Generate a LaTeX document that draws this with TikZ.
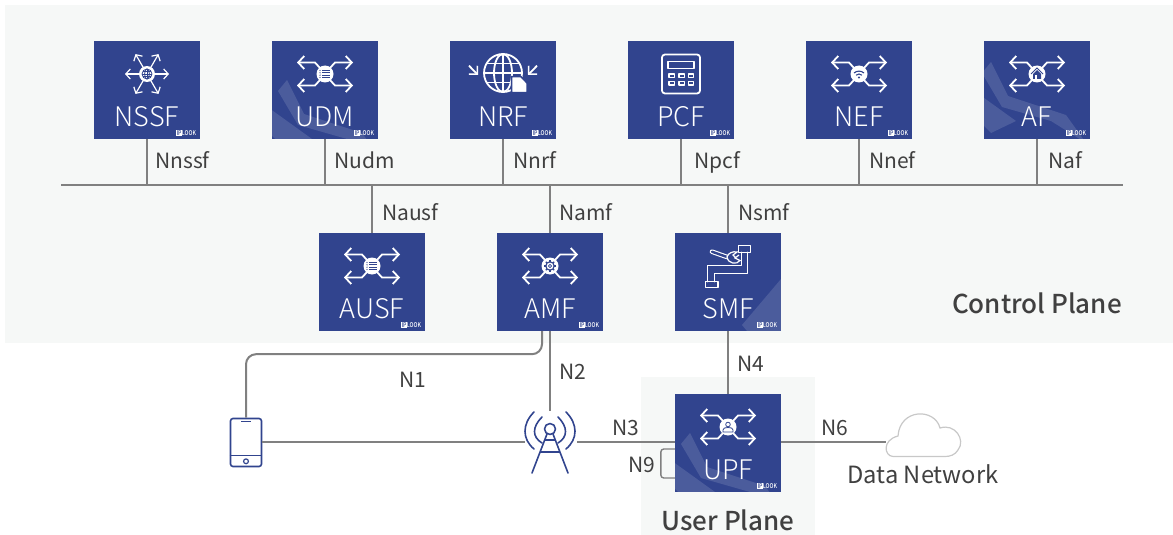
\documentclass[tikz,border=0pt]{standalone}
\usepackage{graphicx}
\usepackage{fontspec}
\setmainfont{Noto Sans CJK SC}
\newfontfamily\lightfont{Noto Sans CJK SC Light}
\newfontfamily\mediumfont{Noto Sans CJK SC Medium}
\usetikzlibrary{calc,arrows.meta}
\definecolor{nfblue}{HTML}{31448E}
\definecolor{planebg}{HTML}{F6F8F7}
\definecolor{linkgray}{HTML}{808080}
\definecolor{textgray}{HTML}{404040}
\definecolor{cloudgray}{HTML}{C8C8C8}
\newcommand{\iplogo}{\scalebox{.8}[1]{\mediumfont\fontsize{6.5}{6.5}\selectfont\fboxsep=0.5pt\colorbox{white}{\textcolor{nfblue}{IP}}LOOK}}
\tikzset{
nfbox/.style={fill=nfblue, text=white, inner sep=0pt, minimum width=106pt, text height=85pt, text depth=13pt, font=\lightfont\fontsize{27}{27}\selectfont},
band/.style 2 args={path picture={
\coordinate (ppo) at (path picture bounding box.north west);
\fill[white, opacity=.13] ($(ppo)+(6+#1,50+#2)$) -- ($(ppo)+(15+#1,39+#2)$) -- ($(ppo)+(32+#1,73+#2)$) -- ($(ppo)+(90+#1,92+#2)$) -- ($(ppo)+(110+#1,120+#2)$) -- ($(ppo)+(75+#1,98+#2)$) -- ($(ppo)+(26+#1,84+#2)$) -- cycle;
\fill[white, opacity=.13] ($(ppo)+(-10+#1,62+#2)$) -- ($(ppo)+(40+#1,98+#2)$) -- ($(ppo)+(15+#1,110+#2)$) -- ($(ppo)+(-10+#1,85+#2)$) -- cycle;
}},
logo/.style={text=white, inner sep=0pt, anchor=east},
lbl/.style={text=textgray, inner sep=0pt, anchor=base west, xshift=-1pt, font=\fontsize{21}{21}\selectfont},
plane/.style={text=textgray, inner sep=0pt, font=\mediumfont\fontsize{26}{26}\selectfont},
link/.style={draw=linkgray, line width=2pt},
iconline/.style={draw=white, line width=1.8pt, line cap=round, line join=round},
glyph/.style={draw=nfblue, line width=.8pt},
tiny/.style={draw=nfblue, line width=1.6pt, line cap=round, line join=round},
xarrows/.pic={
\draw[iconline, -{Straight Barb[length=6pt,width=13pt,line width=1.8pt]}] (-5,-6) -- (-10,-11.5) -- (-28,-11.5);
\draw[iconline, -{Straight Barb[length=6pt,width=13pt,line width=1.8pt]}] (5,-6) -- (10,-11.5) -- (28,-11.5);
\draw[iconline, -{Straight Barb[length=6pt,width=13pt,line width=1.8pt]}] (-5,6) -- (-10,11.5) -- (-28,11.5);
\draw[iconline, -{Straight Barb[length=6pt,width=13pt,line width=1.8pt]}] (5,6) -- (10,11.5) -- (28,11.5);
\fill[white] (0,0) circle (8.5);
},
listglyph/.pic={
\foreach \yy in {-3.5,-1.2,1.2,3.5} {\draw[glyph, line width=1.1pt] (-3,\yy) -- (5,\yy); \fill[nfblue] (-5,\yy) circle (.7);}
},
wifiglyph/.pic={
\draw[glyph, line width=1.1pt] (-5,-1) .. controls (-2,-3.5) and (2,-3.5) .. (5,-1);
\draw[glyph, line width=1.1pt] (-3,1.2) .. controls (-1,-.4) and (1,-.4) .. (3,1.2);
\fill[nfblue] (0,3.5) circle (1.2);
},
houseglyph/.pic={
\draw[glyph] (-6,0) -- (0,-6) -- (6,0);
\fill[nfblue] (-4,0) -- (0,-4) -- (4,0) -- (4,5) -- (-4,5) -- cycle;
\fill[white] (-2.5,1) rectangle (0,5);
},
gearglyph/.pic={
\draw[glyph, line width=1.2pt] (0,0) circle (4.2);
\draw[glyph] (0,0) circle (1.6);
\foreach \aa in {0,45,...,315} {\draw[glyph, line width=1.4pt] (\aa:4.2) -- (\aa:6);}
},
personglyph/.pic={
\draw[glyph] (0,-2.5) circle (2.3);
\draw[glyph] (-5,5) -- (-5,3) .. controls (-5,1) and (-3,.5) .. (0,.5) .. controls (3,.5) and (5,1) .. (5,3) -- (5,5) -- cycle;
},
globeglyph/.pic={
\draw[glyph] (0,0) circle (5);
\draw[glyph] (0,0) ellipse [x radius=2.4, y radius=5];
\draw[glyph] (-5,0) -- (5,0) (0,-5) -- (0,5) (-4.3,-2.4) -- (4.3,-2.4) (-4.3,2.4) -- (4.3,2.4);
},
radial/.pic={
\foreach \aa/\rr in {0/22,60/23,120/23,180/22,240/23,300/23} {\draw[iconline, line width=1.2pt, -{Straight Barb[length=4.5pt,width=10pt,line width=1.2pt]}] (0,0) -- (\aa:\rr);}
\fill[white] (0,0) circle (8);
},
nrficon/.pic={
\draw[iconline] (0,-1) circle (19);
\draw[iconline] (0,-1) ellipse [x radius=9, y radius=19];
\draw[iconline] (0,-20) -- (0,18) (-19,-1) -- (19,-1) (-16.5,-10.5) -- (16.5,-10.5) (-16.5,8.5) -- (16.5,8.5);
\filldraw[fill=white, draw=nfblue, line width=1.5pt] (8.7,2.7) -- (18,2.7) -- (24,9) -- (24,18.7) -- (8.7,18.7) -- cycle;
\draw[iconline, line cap=butt, -{Straight Barb[length=6pt,width=13pt,line width=1.5pt,angle'=90]}] (-34,-8.3) -- (-25,1);
\draw[iconline, line cap=butt, -{Straight Barb[length=6pt,width=13pt,line width=1.5pt,angle'=90]}] (34,-8.3) -- (25,1);
},
pcficon/.pic={
\draw[iconline, rounded corners=3] (-19,-19.5) rectangle (19,19.5);
\draw[iconline, line width=1.3pt] (-13,-12.3) rectangle (13,-5.7);
\foreach \xx in {-9.3,.7,10} \foreach \yy in {1.8,9.3} {\draw[iconline, line width=1.3pt] (\xx-2.7,\yy-1.7) rectangle (\xx+2.7,\yy+1.7);}
},
smficon/.pic={
\draw[iconline, line width=1.5pt] (10.7,-20.3) rectangle (22.7,-13.7);
\draw[iconline, line width=1.5pt] (-22.3,15.7) rectangle (-10,21.7);
\draw[iconline, line width=1.5pt] (13.7,-13.7) -- (13.7,-.3) -- (-20.3,-.3) -- (-20.3,15.7);
\draw[iconline, line width=1.5pt] (19.3,-13.7) -- (19.3,7.3) -- (-13.7,7.3) -- (-13.7,15.7);
\draw[white, line width=4.6pt, line cap=round] (-16,-14.3) -- (-1,-9);
\draw[nfblue, line width=2.4pt, line cap=round] (-16,-14.3) -- (-1,-9);
\draw[white, line width=1.2pt, fill=nfblue] (11,-11) -- (7,-8) -- (12,-5.5) .. controls (9,-1) and (0,-2) .. (-1,-9) .. controls (0,-13) and (5,-15) .. (9,-14) -- (5,-11) -- (8,-8);
},
}
\begin{document}
\begin{tikzpicture}[x=1pt, y=-1pt]
\useasboundingbox (0,0) rectangle (1173,535);
\fill[planebg] (5,5) rectangle (1173,343);
\fill[planebg] (641,377) rectangle (815,535);

\node(NSSF)[nfbox] at (147,90) {NSSF};
\node(UDM)[nfbox, band={0}{0}] at (325,90) {UDM};
\node(NRF)[nfbox] at (503,90) {NRF};
\node(PCF)[nfbox] at (681,90) {PCF};
\node(NEF)[nfbox] at (859,90) {NEF};
\node(AF)[nfbox, band={-8}{-18}] at (1037,90) {AF};
\node(AUSF)[nfbox] at (372,282) {AUSF};
\node(AMF)[nfbox] at (550,282) {AMF};
\node(SMF)[nfbox, path picture={\fill[white, opacity=.13] ($(path picture bounding box.south east)+(0,-52)$) -- ($(path picture bounding box.south east)+(-39,-6)$) -- ($(path picture bounding box.south east)+(-34,0)$) -- (path picture bounding box.south east) -- cycle;}] at (728,282) {SMF};
\node(UPF)[nfbox, band={0}{0}] at (728,443) {UPF};

\pic at ($(NSSF)+(0,-16)$) {radial};
\pic at ($(NSSF)+(0,-16)$) {globeglyph};
\pic at ($(UDM)+(0,-16)$) {xarrows};
\pic at ($(UDM)+(0,-16)$) {listglyph};
\pic at ($(NRF)+(0,-16)$) {nrficon};
\pic at ($(PCF)+(0,-16)$) {pcficon};
\pic at ($(NEF)+(0,-16)$) {xarrows};
\pic at ($(NEF)+(0,-16)$) {wifiglyph};
\pic at ($(AF)+(0,-16)$) {xarrows};
\pic at ($(AF)+(0,-16)$) {houseglyph};
\pic at ($(AUSF)+(0,-16)$) {xarrows};
\pic at ($(AUSF)+(0,-16)$) {listglyph};
\pic at ($(AMF)+(0,-16)$) {xarrows};
\pic at ($(AMF)+(0,-16)$) {gearglyph};
\pic at ($(SMF)+(0,-16)$) {smficon};
\pic at ($(UPF)+(0,-16)$) {xarrows};
\pic at ($(UPF)+(0,-16)$) {personglyph};

\node(NSSFlogo)[logo] at ($(NSSF.south east)+(-4,-6)$) {\iplogo};
\node(UDMlogo)[logo] at ($(UDM.south east)+(-4,-6)$) {\iplogo};
\node(NRFlogo)[logo] at ($(NRF.south east)+(-4,-6)$) {\iplogo};
\node(PCFlogo)[logo] at ($(PCF.south east)+(-4,-6)$) {\iplogo};
\node(NEFlogo)[logo] at ($(NEF.south east)+(-4,-6)$) {\iplogo};
\node(AFlogo)[logo] at ($(AF.south east)+(-4,-6)$) {\iplogo};
\node(AUSFlogo)[logo] at ($(AUSF.south east)+(-4,-6)$) {\iplogo};
\node(AMFlogo)[logo] at ($(AMF.south east)+(-4,-6)$) {\iplogo};
\node(SMFlogo)[logo] at ($(SMF.south east)+(-4,-6)$) {\iplogo};
\node(UPFlogo)[logo] at ($(UPF.south east)+(-4,-6)$) {\iplogo};

\coordinate(BusL) at (61,185);
\coordinate(BusR) at (1123,185);
\draw[link] (BusL) -- (BusR);
\draw[link] (NSSF.south) -- (NSSF.south |- BusL);
\draw[link] (UDM.south) -- (UDM.south |- BusL);
\draw[link] (NRF.south) -- (NRF.south |- BusL);
\draw[link] (PCF.south) -- (PCF.south |- BusL);
\draw[link] (NEF.south) -- (NEF.south |- BusL);
\draw[link] (AF.south) -- (AF.south |- BusL);
\draw[link] (AUSF.north) -- (AUSF.north |- BusL);
\draw[link] (AMF.north) -- (AMF.north |- BusL);
\draw[link] (SMF.north) -- (SMF.north |- BusL);

\node(UE)[draw=nfblue, line width=1.6pt, rounded corners=2.5, inner sep=0pt, minimum width=31pt, minimum height=48pt] at (246,442.5) {};
\draw[nfblue, line width=1.4pt] ($(UE.north)+(-5,4)$) -- ($(UE.north)+(5,4)$);
\draw[nfblue, line width=1.4pt] ($(UE.south west)+(0,-12)$) -- ($(UE.south east)+(0,-12)$);
\draw[nfblue, line width=1.2pt] ($(UE.south)+(0,-6)$) circle (2.4);

\node(GNB)[inner sep=0pt, minimum width=52pt, minimum height=62pt] at (551,442) {};
\begin{scope}[shift={(GNB.center)}]
\draw[tiny] (-1,-13) circle (5.5);
\draw[tiny] (-4,-8) -- (-19,31) (2,-8) -- (17,31) (-10,10) -- (8,10) (-6,-2) -- (4,-2);
\draw[tiny] (-9,-25) .. controls (-19,-15) and (-19,-5) .. (-9,1);
\draw[tiny] (7,-25) .. controls (17,-15) and (17,-5) .. (7,1);
\draw[tiny] (-17,-30) .. controls (-29,-18) and (-29,-3) .. (-17,7);
\draw[tiny] (15,-30) .. controls (27,-18) and (27,-3) .. (15,7);
\end{scope}

\coordinate(DN) at (886,442);
\filldraw[fill=white, draw=cloudgray, line width=1.2pt] (893,456.5) .. controls (884,456) and (882,440) .. (898,436) .. controls (900,408) and (935,408) .. (940,428) .. controls (955,423) and (966,440) .. (958,450) .. controls (955,455) and (950,456.5) .. (945,456.5) -- cycle;

\draw[link, rounded corners=10] ($(AMF.south)+(-8,0)$) -- ++(0,23) -| (UE.north);
\draw[link] (AMF.south) -- (AMF.south |- GNB.north);
\draw[link] (UE.east |- GNB.west) -- (GNB.west);
\draw[link] (GNB.east) -- (GNB.east -| UPF.west);
\draw[draw=linkgray, line width=1.4pt, rounded corners=3] ($(UPF.west)+(0,6)$) -- ++(-14,0) |- ($(UPF.west)+(0,35)$);
\draw[link] (SMF.south) -- (UPF.north);
\draw[link] (UPF.east |- DN) -- (DN);

\node(LNnssf)[lbl] at (156,168) {Nnssf};
\node(LNudm)[lbl] at (335,168) {Nudm};
\node(LNnrf)[lbl] at (514,168) {Nnrf};
\node(LNpcf)[lbl] at (695,168) {Npcf};
\node(LNnef)[lbl] at (870,168) {Nnef};
\node(LNaf)[lbl] at (1049,168) {Naf};
\node(LNausf)[lbl] at (383,220) {Nausf};
\node(LNamf)[lbl] at (560,220) {Namf};
\node(LNsmf)[lbl] at (739,220) {Nsmf};
\node(LN1)[lbl] at (400,387) {N1};
\node(LN2)[lbl] at (560,379.5) {N2};
\node(LN3)[lbl] at (613,435.5) {N3};
\node(LN4)[lbl] at (738,371.5) {N4};
\node(LN6)[lbl] at (822,435.5) {N6};
\node(LN9)[lbl] at (629,472.5) {N9};
\node(DNtext)[lbl, font=\fontsize{23.7}{24}\selectfont, xshift=1pt, anchor=center] at (923,474) {Data Network};
\node(CPtext)[plane] at (1037,303) {Control Plane};
\node(UPtext)[plane] at (728,520) {User Plane};
\end{tikzpicture}
\end{document}
